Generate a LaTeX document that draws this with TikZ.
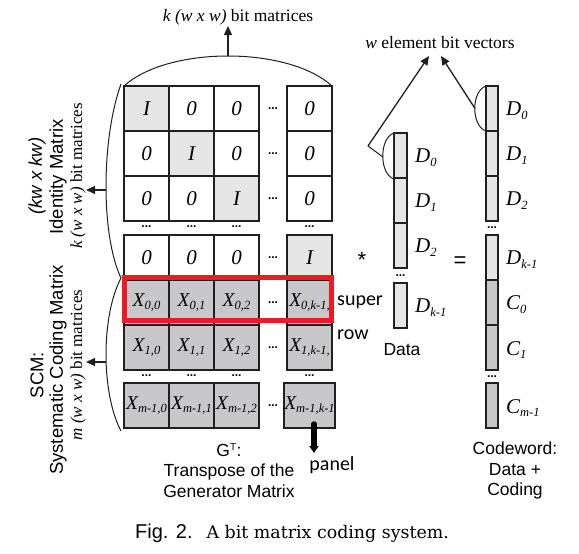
\documentclass[tikz,border=0pt]{standalone}
\usepackage{fontspec}
\newfontfamily\arialf{Liberation Sans}
\newfontfamily\timesf{Liberation Serif}
\newfontfamily\calf{Carlito}
\newfontfamily\capserif{DejaVu Serif}
\usetikzlibrary{arrows.meta}
\definecolor{lightc}{RGB}{230,230,230}
\definecolor{darkc}{RGB}{200,200,202}
\definecolor{edgec}{RGB}{35,31,32}
\definecolor{redc}{RGB}{237,28,36}
\newcommand\mysub[1]{\raisebox{-0.4ex}{\fontsize{12.5}{12.5}\selectfont #1}}
\begin{document}
\begin{tikzpicture}[x=1pt,y=-1pt,
  cell/.style={draw=edgec, line width=2.2pt, minimum width=45pt, minimum height=45pt, inner sep=0pt, fill=white,
    font=\timesf\itshape\fontsize{21}{21}\selectfont},
  icell/.style={cell, fill=lightc},
  xcell/.style={cell, fill=darkc, font=\timesf\itshape\fontsize{19.5}{19.5}\selectfont},
  vcell/.style={draw=edgec, line width=2pt, minimum width=12.5pt, minimum height=45pt, inner sep=0pt, fill=lightc},
  vdcell/.style={vcell, fill=darkc},
  vlab/.style={anchor=west, inner sep=0pt, font=\timesf\itshape\fontsize{21}{21}\selectfont},
  dots/.style={inner sep=0pt, font=\arialf\bfseries\fontsize{12}{12}\selectfont},
  sanslab/.style={inner sep=0pt, align=center, font=\arialf\fontsize{17.5}{20.5}\selectfont},
  serlab/.style={inner sep=0pt, font=\timesf\fontsize{17.5}{20}\selectfont},
  brace/.style={draw=edgec, line width=1pt},
  arr/.style={draw=edgec, line width=1.3pt, -{Triangle[length=9pt,width=8pt]}},
  handlab/.style={inner sep=0pt, font=\calf\fontsize{20}{20}\selectfont}
]
\useasboundingbox (0,0) rectangle (579,554);

% identity block
\node[icell] (a11) at (146.5,108.5) {I};
\node[cell]  (a12) at (191.5,108.5) {0};
\node[cell]  (a13) at (236.5,108.5) {0};
\node[cell]  (a15) at (309.5,108.5) {0};
\node[cell]  (a21) at (146.5,153.5) {0};
\node[icell] (a22) at (191.5,153.5) {I};
\node[cell]  (a23) at (236.5,153.5) {0};
\node[cell]  (a25) at (309.5,153.5) {0};
\node[cell]  (a31) at (146.5,198.5) {0};
\node[cell]  (a32) at (191.5,198.5) {0};
\node[icell] (a33) at (236.5,198.5) {I};
\node[cell]  (a35) at (309.5,198.5) {0};
\node[cell]  (a41) at (146.5,257.5) {0};
\node[cell]  (a42) at (191.5,257.5) {0};
\node[cell]  (a43) at (236.5,257.5) {0};
\node[icell] (a45) at (309.5,257.5) {I};
% coding block
\node[xcell] (x01) at (146.5,302.5) {X\mysub{0,0}};
\node[xcell] (x02) at (191.5,302.5) {X\mysub{0,1}};
\node[xcell] (x03) at (236.5,302.5) {X\mysub{0,2}};
\node[xcell] (x05) at (309.5,302.5) {X\mysub{0,k-1,}};
\node[xcell] (x11) at (146.5,347.5) {X\mysub{1,0}};
\node[xcell] (x12) at (191.5,347.5) {X\mysub{1,1}};
\node[xcell] (x13) at (236.5,347.5) {X\mysub{1,2}};
\node[xcell] (x15) at (309.5,347.5) {X\mysub{1,k-1,}};
\node[xcell] (xm1) at (146.5,405.5) {X\mysub{m-1,0}};
\node[xcell] (xm2) at (191.5,405.5) {X\mysub{m-1,1}};
\node[xcell] (xm3) at (236.5,405.5) {X\mysub{m-1,2}};
\node[xcell] (xm5) at (309.5,405.5) {X\mysub{m-1,k-1}};

% dots in the gap column
\foreach \yy [count=\i] in {108.5,153.5,198.5,257.5,302.5,347.5,405.5}
  \node[dots] (gd\i) at (273,\yy) {...};
% dots between row groups
\foreach \xx [count=\i] in {146.5,191.5,236.5,309.5} {
  \node[dots] (ra\i) at (\xx,227) {...};
  \node[dots] (rb\i) at (\xx,376) {...};
}

% super row highlight
\node[draw=redc, line width=5pt, minimum width=207pt, minimum height=43pt, inner sep=0pt] (super) at (228,299) {};

% top brace
\coordinate (tbl) at (124,86);
\coordinate (tbr) at (332,86);
\coordinate (ttop) at (228,56);
\coordinate (ttip) at (228,26);
\draw[brace] (tbl) .. controls (168,46) and (288,46) .. (tbr);
\draw[arr] (ttop) -- (ttip);
\node[serlab] (tlab) at (238,17) {\itshape k (w x w)\upshape{} bit matrices};

% left braces
\coordinate (lb1) at (121,84);
\coordinate (lbm) at (121,278);
\coordinate (lb2) at (121,431);
\draw[brace] (lb1) .. controls (101,140) and (101,236) .. (lbm);
\draw[brace] (lbm) .. controls (101,316) and (101,393) .. (lb2);
\coordinate (la1) at (106,190);
\coordinate (la1t) at (86,190);
\coordinate (la2) at (106,362);
\coordinate (la2t) at (86,362);
\draw[arr] (la1) -- (la1t);
\draw[arr] (la2) -- (la2t);

% left rotated labels
\node[sanslab, rotate=90, font=\arialf\itshape\fontsize{18.5}{18.5}\selectfont] (idl1) at (37,176) {(kw x kw)};
\node[sanslab, rotate=90, font=\arialf\fontsize{18.5}{18.5}\selectfont] (idl2) at (58,177) {Identity Matrix};
\node[serlab, rotate=90, font=\timesf\fontsize{17}{17}\selectfont] (idl3) at (78,176) {\itshape k (w x w)\upshape{} bit matrices};
\node[sanslab, rotate=90, font=\arialf\fontsize{18.5}{18.5}\selectfont] (scl1) at (37,375) {SCM:};
\node[sanslab, rotate=90, font=\arialf\fontsize{18.5}{18.5}\selectfont] (scl2) at (58,370) {Systematic Coding Matrix};
\node[serlab, rotate=90, font=\timesf\fontsize{17}{17}\selectfont] (scl3) at (78,365) {\itshape m (w x w)\upshape{} bit matrices};

% data vector
\node[vcell] (d0) at (400.5,155.5) {};
\node[vcell] (d1) at (400.5,200.5) {};
\node[vcell] (d2) at (400.5,245.5) {};
\node[vcell] (dk) at (400.5,305.5) {};
\node[dots] (dd) at (400.5,276) {...};
\node[vlab] (d0l) at (415,158) {D\mysub{0}};
\node[vlab] (d1l) at (415,203) {D\mysub{1}};
\node[vlab] (d2l) at (415,248) {D\mysub{2}};
\node[vlab] (dkl) at (415,308) {D\mysub{k-1}};
\node[sanslab] (datal) at (402,350) {Data};

% codeword vector
\node[vcell] (w0) at (492,108.5) {};
\node[vcell] (w1) at (492,153.5) {};
\node[vcell] (w2) at (492,198.5) {};
\node[vcell] (wk) at (492,257.5) {};
\node[vdcell] (c0) at (492,302.5) {};
\node[vdcell] (c1) at (492,347.5) {};
\node[vdcell] (cm) at (492,405.5) {};
\node[dots] (wd1) at (492,228) {...};
\node[dots] (wd2) at (492,377) {...};
\node[vlab] (w0l) at (506,111) {D\mysub{0}};
\node[vlab] (w1l) at (506,156) {D\mysub{1}};
\node[vlab] (w2l) at (506,201) {D\mysub{2}};
\node[vlab] (wkl) at (506,260) {D\mysub{k-1}};
\node[vlab] (c0l) at (506,305) {C\mysub{0}};
\node[vlab] (c1l) at (506,350) {C\mysub{1}};
\node[vlab] (cml) at (506,408) {C\mysub{m-1}};
\node[sanslab] (cwl) at (515,470.5) {Codeword:\\Data +\\Coding};

% operators
\node[sanslab, font=\arialf\fontsize{22}{22}\selectfont] (star) at (362,260) {*};
\node[sanslab, font=\arialf\fontsize{22}{22}\selectfont] (eq) at (460,262) {=};

% w element bit vectors
\node[serlab] (wlab) at (440,43) {\itshape w\upshape{} element bit vectors};
\coordinate (dat) at (394,133);
\coordinate (dab) at (394,179);
\coordinate (dam) at (383,157);
\coordinate (vx) at (368,146);
\coordinate (dtip) at (429,56);
\draw[brace] (dat) .. controls (379,138) and (379,174) .. (dab);
\draw[brace] (dam) -- (vx);
\draw[arr] (vx) -- (dtip);
\coordinate (wat) at (486,86);
\coordinate (wab) at (486,131);
\coordinate (wam) at (475,108.5);
\coordinate (wtip) at (441,56);
\draw[brace] (wat) .. controls (471,91) and (471,126) .. (wab);
\draw[arr] (wam) -- (wtip);

% bottom labels
\node[sanslab] (gtl) at (229,470.5) {G\textsuperscript{\fontsize{10}{10}\selectfont T}:\\Transpose of the\\Generator Matrix};

% hand annotations
\node[handlab, anchor=west] (sup) at (337,302) {super};
\node[handlab, anchor=west] (rowl) at (337,335) {row};
\node[handlab] (pan) at (332,465) {panel};
\coordinate (pa) at (314,424);
\coordinate (pb) at (314,453);
\draw[line width=5.5pt, line cap=round, -{Triangle[length=7pt,width=9pt]}] (pa) -- (pb);

% caption
\node[inner sep=0pt, anchor=west] (cap) at (135,533) {{\arialf\fontsize{20}{20}\selectfont Fig. 2.}\hspace{14pt}{\capserif\fontsize{17.4}{17.4}\selectfont A bit matrix coding system.}};
\end{tikzpicture}
\end{document}
